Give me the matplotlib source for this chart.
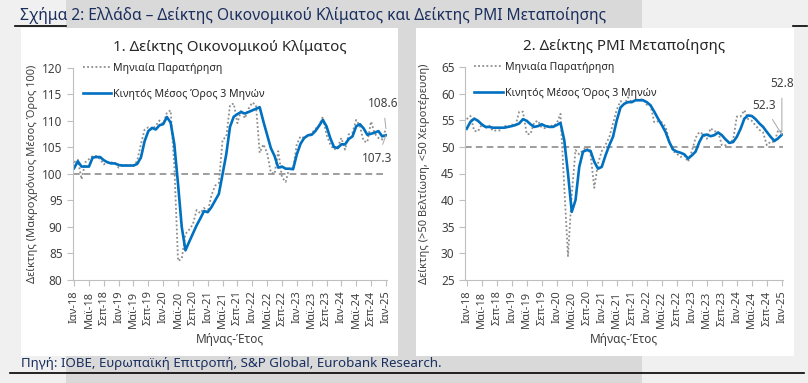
import matplotlib
matplotlib.use('Agg')
import matplotlib.pyplot as plt
from matplotlib.patches import Rectangle
from matplotlib.lines import Line2D

plt.rcParams['font.family'] = ['Noto Sans', 'DejaVu Sans']

# --- data (Jan-18 .. Jan-25) ---
tick_labels = ['Ιαν-18', 'Μαϊ-18', 'Σεπ-18', 'Ιαν-19', 'Μαϊ-19', 'Σεπ-19',
               'Ιαν-20', 'Μαϊ-20', 'Σεπ-20', 'Ιαν-21', 'Μαϊ-21', 'Σεπ-21',
               'Ιαν-22', 'Μαϊ-22', 'Σεπ-22', 'Ιαν-23', 'Μαϊ-23', 'Σεπ-23',
               'Ιαν-24', 'Μαϊ-24', 'Σεπ-24', 'Ιαν-25']

esi_monthly = [102.2, 102.7, 99.0, 102.2, 102.8, 103.4, 103.4, 102.8, 101.8, 102.3, 102.2, 102.0,
               101.2, 101.6, 101.6, 101.6, 101.5, 102.5, 105.6, 108.4, 108.8, 108.4, 109.1, 110.1,
               109.4, 111.6, 112.0, 101.5, 83.6, 84.0, 88.7, 89.5, 90.5, 93.2, 92.6, 93.6,
               92.8, 96.0, 97.8, 98.3, 106.5, 107.0, 113.0, 113.3, 109.6, 112.0, 110.5, 112.3,
               113.5, 113.0, 104.0, 105.6, 104.0, 100.3, 100.0, 104.3, 99.4, 98.5, 101.2, 101.0,
               105.6, 107.1, 106.8, 107.2, 107.7, 108.5, 109.2, 110.8, 107.4, 105.6, 104.6, 105.0,
               106.8, 104.6, 107.5, 107.8, 110.2, 109.0, 106.2, 106.0, 109.9, 107.6, 106.8, 106.5,
               108.6]
esi_ma3 = [101.1, 102.4, 101.4, 101.4, 101.4, 103.1, 103.2, 103.2, 102.6, 102.2, 102.0, 102.0,
           101.7, 101.6, 101.6, 101.6, 101.6, 101.9, 103.1, 106.2, 108.1, 108.7, 108.4, 109.2,
           109.4, 110.75, 109.7, 105.6, 98.1, 90.0, 85.6, 87.2, 88.75, 90.3, 91.6, 93.0,
           92.8, 93.75, 95.0, 96.25, 100.0, 103.75, 108.9, 110.8, 111.3, 111.7, 111.4, 111.7,
           112.0, 112.3, 112.6, 109.9, 107.4, 104.9, 103.4, 101.2, 101.4, 101.0, 101.0, 100.9,
           103.7, 105.7, 106.8, 107.3, 107.4, 108.1, 109.1, 110.2, 109.0, 106.8, 105.1, 104.9,
           105.6, 105.6, 106.6, 107.1, 109.0, 109.4, 108.6, 107.4, 107.6, 107.8, 108.1, 107.1,
           107.3]

pmi_monthly = [55.2, 55.8, 53.0, 52.9, 54.2, 53.5, 54.0, 53.0, 53.1, 53.1, 54.0, 53.7,
               54.2, 54.0, 56.6, 56.6, 52.4, 52.4, 54.6, 54.9, 53.6, 53.5, 54.1, 53.9,
               54.4, 56.2, 42.5, 29.5, 41.1, 49.4, 48.6, 49.4, 50.0, 48.7, 42.3, 46.9,
               49.2, 50.4, 51.8, 54.4, 57.0, 58.6, 58.0, 59.3, 58.4, 58.9, 58.8, 59.0,
               57.9, 57.8, 54.6, 54.8, 54.6, 53.8, 51.1, 49.2, 48.7, 48.1, 48.4, 47.2,
               49.2, 51.7, 52.8, 52.4, 51.5, 53.5, 52.9, 52.9, 50.3, 50.3, 50.9, 51.3,
               55.7, 55.7, 56.9, 55.2, 54.9, 54.0, 53.2, 52.7, 50.3, 51.0, 50.9, 53.1,
               52.8]
pmi_ma3 = [53.4, 54.7, 55.3, 54.9, 54.25, 53.75, 53.75, 53.6, 53.6, 53.6, 53.6, 53.75,
           53.9, 54.1, 54.4, 55.2, 54.9, 54.25, 53.75, 53.9, 54.25, 53.9, 53.75, 53.75,
           54.1, 54.5, 51.25, 45.0, 37.8, 40.0, 46.25, 49.1, 49.4, 49.25, 47.2, 45.9,
           46.25, 48.4, 50.3, 51.9, 55.0, 57.4, 58.1, 58.4, 58.4, 58.75, 58.75, 58.75,
           58.4, 57.8, 56.6, 55.3, 54.1, 52.8, 50.9, 49.5, 49.1, 48.9, 48.6, 47.8,
           48.4, 49.1, 50.9, 52.2, 52.3, 52.0, 52.2, 52.7, 52.2, 51.4, 50.75, 50.9,
           51.9, 53.4, 55.3, 55.9, 55.8, 55.2, 54.4, 53.75, 52.8, 51.9, 51.1, 51.6,
           52.3]

W, H = 808, 383
NAVY = '#1b2f5e'
BLUE = '#0070c0'
GREY = '#8c8c8c'
TXT = '#404040'


def box(x0, y0, x1, y1):
    # pixel box (top-left origin) -> figure fraction rect
    return [x0 / W, 1 - y1 / H, (x1 - x0) / W, (y1 - y0) / H]


fig = plt.figure(figsize=(W / 100, H / 100), dpi=100)
fig.patch.set_facecolor('#f0f0f0')
fig.patches.append(Rectangle((66 / W, 0), (642 - 66) / W, 1, transform=fig.transFigure,
                             facecolor='#d9d9d9', edgecolor='none', zorder=0))
for x0, y0, x1, y1 in [(21, 28, 398, 356), (416, 28, 794, 356)]:
    b = box(x0, y0, x1, y1)
    fig.patches.append(Rectangle((b[0], b[1]), b[2], b[3], transform=fig.transFigure,
                                 facecolor='white', edgecolor='none', zorder=1))

fig.lines.append(Line2D([15 / W, 66 / W], [1 - 26 / H] * 2, transform=fig.transFigure,
                        color='black', lw=1.2))
fig.lines.append(Line2D([793 / W, 807 / W], [1 - 26 / H] * 2, transform=fig.transFigure,
                        color='black', lw=1.2))
fig.lines.append(Line2D([10 / W, 804 / W], [1 - 373 / H] * 2, transform=fig.transFigure,
                        color='black', lw=1.2, zorder=5))

fig.text(20 / W, 1 - 15 / H, 'Σχήμα 2: Ελλάδα – Δείκτης Οικονομικού Κλίματος και Δείκτης PMI Μεταποίησης',
         color=NAVY, fontsize=11.2, va='center', ha='left', zorder=5)
fig.text(21 / W, 1 - 363 / H, 'Πηγή: ΙΟΒΕ, Ευρωπαϊκή Επιτροπή, S&P Global, Eurobank Research.',
         color=NAVY, fontsize=9.6, va='center', ha='left', zorder=5)


def panel(rect, monthly, ma3, ylim, ref, title, ylabel, notes, ylab_x, xlim):
    ax = fig.add_axes(rect)
    ax.set_zorder(3)
    ax.set_facecolor('none')
    x = list(range(len(monthly)))
    ax.plot(x, monthly, color=GREY, lw=1.3, ls=(0, (1, 1.3)), label='Μηνιαία Παρατήρηση')
    ax.plot(x, ma3, color=BLUE, lw=1.9, label='Κινητός Μέσος Όρος 3 Μηνών')
    ax.axhline(ref, color=GREY, lw=1.2, ls=(0, (4, 2.5)), zorder=1)
    ax.set_ylim(*ylim)
    ax.set_xlim(*xlim)
    ax.set_yticks(range(ylim[0], ylim[1] + 1, 5))
    ax.set_xticks(range(0, len(monthly), 4))
    ax.set_xticklabels(tick_labels, rotation=90)
    for s in ['top', 'right']:
        ax.spines[s].set_visible(False)
    for s in ['left', 'bottom']:
        ax.spines[s].set_color('#bfbfbf')
    ax.tick_params(axis='both', colors='#bfbfbf', labelcolor=TXT, length=4, width=0.8)
    ax.tick_params(axis='y', labelsize=8.5)
    ax.tick_params(axis='x', labelsize=8)
    ax.set_title(title, fontsize=10.8, color='#262626', pad=12)
    ax.set_xlabel('Μήνας-Έτος', fontsize=8.5, color=TXT, labelpad=4)
    ax.set_ylabel(ylabel, fontsize=8, color=TXT)
    ax.yaxis.set_label_coords(ylab_x, 0.5)
    ax.legend(loc='upper left', bbox_to_anchor=(0.0, 1.07), frameon=False,
              fontsize=7.6, labelspacing=1.45, handlelength=2.7, handletextpad=0.2,
              labelcolor='#262626')
    for val, dx, dy in notes:
        ax.annotate(f'{val:.1f}', xy=(len(monthly) - 1, val), xytext=(dx, dy),
                    textcoords='offset points', ha='center', va='center', fontsize=8.5,
                    color=TXT, arrowprops=dict(arrowstyle='-', color='#a6a6a6', lw=0.7,
                                               shrinkA=4, shrinkB=0))
    return ax


panel(box(73, 68, 387, 280), esi_monthly, esi_ma3, (80, 120), 100,
      '1. Δείκτης Οικονομικού Κλίματος', 'Δείκτης (Μακροχρόνιος Μέσος Όρος 100)',
      [(esi_monthly[-1], -2, 18), (esi_ma3[-1], -6, -17)], -0.11, (-0.3, 84.3))
panel(box(465, 67, 783, 280), pmi_monthly, pmi_ma3, (25, 65), 50,
      '2. Δείκτης PMI Μεταποίησης', 'Δείκτης (>50 Βελτίωση, <50 Χειροτέρευση)',
      [(pmi_monthly[-1], 0, 35), (pmi_ma3[-1], -13, 21)], -0.11, (-0.45, 84.3))

fig.savefig('out.png', dpi=100, facecolor=fig.get_facecolor())
